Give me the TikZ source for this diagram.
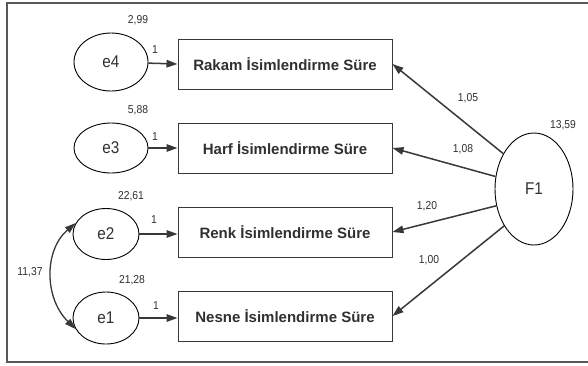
\documentclass[tikz,border=0pt]{standalone}
\usepackage{fontspec}
\setmainfont{Liberation Sans}
\newfontfamily\narrowf[FakeStretch=0.9]{Liberation Sans}
\usetikzlibrary{arrows.meta}
\definecolor{txt}{HTML}{303030}
\definecolor{ln}{HTML}{383838}
\tikzset{
  obs/.style={draw=ln, line width=1pt, rectangle, minimum width=214pt, minimum height=50pt, inner sep=0pt, text=txt, font=\fontsize{15}{15}\selectfont\bfseries},
  err/.style={draw=black, line width=0.9pt, ellipse, inner sep=0pt, text=txt, font=\narrowf\fontsize{17}{17}\selectfont},
  lab/.style={text=txt, inner sep=0pt, font=\narrowf\fontsize{11.5}{11.5}\selectfont},
  pth/.style={draw=ln, line width=1.5pt, -{Triangle[length=11pt,width=7.5pt]}},
  cov/.style={draw=ln, line width=1.3pt, {Triangle[length=11pt,width=7pt]}-{Triangle[length=11pt,width=7pt]}}
}
\usetikzlibrary{shapes.geometric}
\begin{document}
\begin{tikzpicture}[x=1pt,y=-1pt]
\useasboundingbox (0,0) rectangle (588,365);
\clip (0,0) rectangle (588,365);
\draw[draw=black!65, line width=1.8pt] (600,3) -- (7,3) -- (7,362) -- (600,362);
% observed boxes
\node[obs] (b4) at (285,64) {Rakam İsimlendirme Süre};
\node[obs] (b3) at (285,148) {Harf İsimlendirme Süre};
\node[obs] (b2) at (285,232) {Renk İsimlendirme Süre};
\node[obs] (b1) at (285,316) {Nesne İsimlendirme Süre};
% error ellipses
\node[err, minimum width=74pt, minimum height=58pt] (e4) at (111,62) {e4};
\node[err, minimum width=74pt, minimum height=50pt] (e3) at (111,148) {e3};
\node[err, minimum width=66pt, minimum height=51pt] (e2) at (106,234) {e2};
\node[err, minimum width=66pt, minimum height=52pt] (e1) at (106,318) {e1};
% factor
\node[err, minimum width=78pt, minimum height=112pt] (F1) at (534,189) {F1};
% error paths
\draw[pth] (e4) -- (b4.west);
\draw[pth] (e3) -- (b3.west);
\draw[pth] (e2.east) -- (e2.east -| b2.west);
\draw[pth] (e1.east) -- (e1.east -| b1.west);
% loadings
\draw[pth] (F1.131) -- (b4.east);
\draw[pth] (F1.162) -- (b3.east);
\draw[pth] (F1.204) -- (b2.east);
\draw[pth] (F1.231) -- (b1.east);
% covariance
\draw[cov] (e2.160) .. controls (44,250) and (44,298) .. (e1.200);
% labels
\node[lab] (v4) at (138,20) {2,99};
\node[lab] (v3) at (138,110) {5,88};
\node[lab] (v2) at (131,196) {22,61};
\node[lab] (v1) at (132,280) {21,28};
\node[lab] (c21) at (30,272) {11,37};
\node[lab] (vF) at (563,125) {13,59};
\node[lab] (w4) at (155,50) {1};
\node[lab] (w3) at (155,137) {1};
\node[lab] (w2) at (154,220) {1};
\node[lab] (w1) at (156,306) {1};
\node[lab] (l4) at (468,98) {1,05};
\node[lab] (l3) at (463,149) {1,08};
\node[lab] (l2) at (427,206) {1,20};
\node[lab] (l1) at (429,260) {1,00};
\end{tikzpicture}
\end{document}
